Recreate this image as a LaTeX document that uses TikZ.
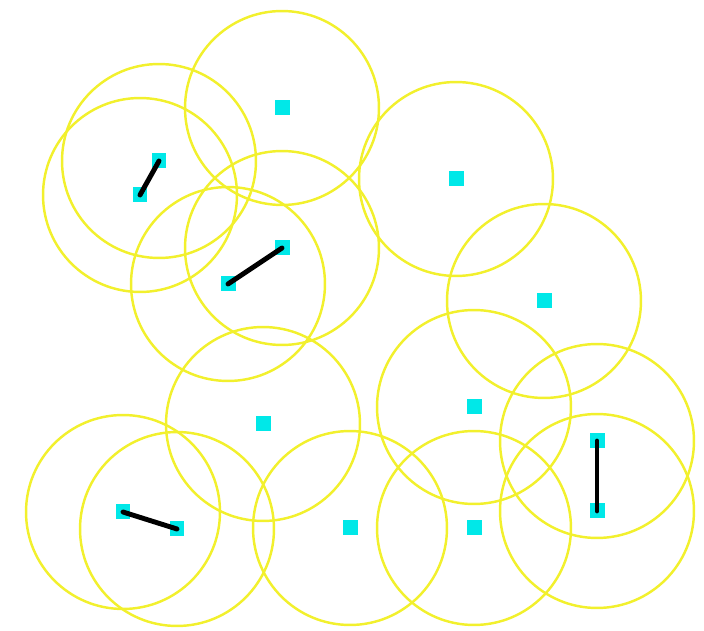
\documentclass[tikz,border=0pt]{standalone}
\usetikzlibrary{backgrounds}

\definecolor{rangeyellow}{RGB}{242,240,45}
\definecolor{sensorcyan}{RGB}{0,232,232}

\begin{document}
\begin{tikzpicture}[
          x=0.02cm, y=-0.02cm,
          % Sensor and range styles
          sensor/.style={rectangle, fill=sensorcyan, draw=none, minimum size=0.3cm, inner sep=0pt},
          rangecircle/.style={circle, draw=rangeyellow, line width=1.4pt, minimum size=3.88cm, inner sep=0pt},
          % Link style
          link/.style={line width=2.8pt, draw=black, line cap=round}
        ]
          \useasboundingbox (0,0) rectangle (704,631);

          % ==========================================
          % 1. Sensors
          % ==========================================
          \foreach \n/\px/\py in {1/282/108, 2/159/161, 3/140/195, 4/282/248, 5/228/284,
                                  6/456/179, 7/544/301, 8/263/424, 9/474/407, 10/597/441,
                                  11/597/511, 12/123/512, 13/177/529, 14/350/528, 15/474/528}
            \node[sensor] (s\n) at (\px,\py) {};

          % ==========================================
          % 2. Sensing ranges
          % ==========================================
          \begin{scope}[on background layer]
            \foreach \n in {1,...,15}
              \node[rangecircle] (r\n) at (s\n) {};
          \end{scope}

          % ==========================================
          % 3. Links between close sensors
          % ==========================================
          \draw[link] (s2.center) -- (s3.center);
          \draw[link] (s4.center) -- (s5.center);
          \draw[link] (s12.center) -- (s13.center);
          \draw[link] (s10.center) -- (s11.center);
        \end{tikzpicture}
\end{document}
